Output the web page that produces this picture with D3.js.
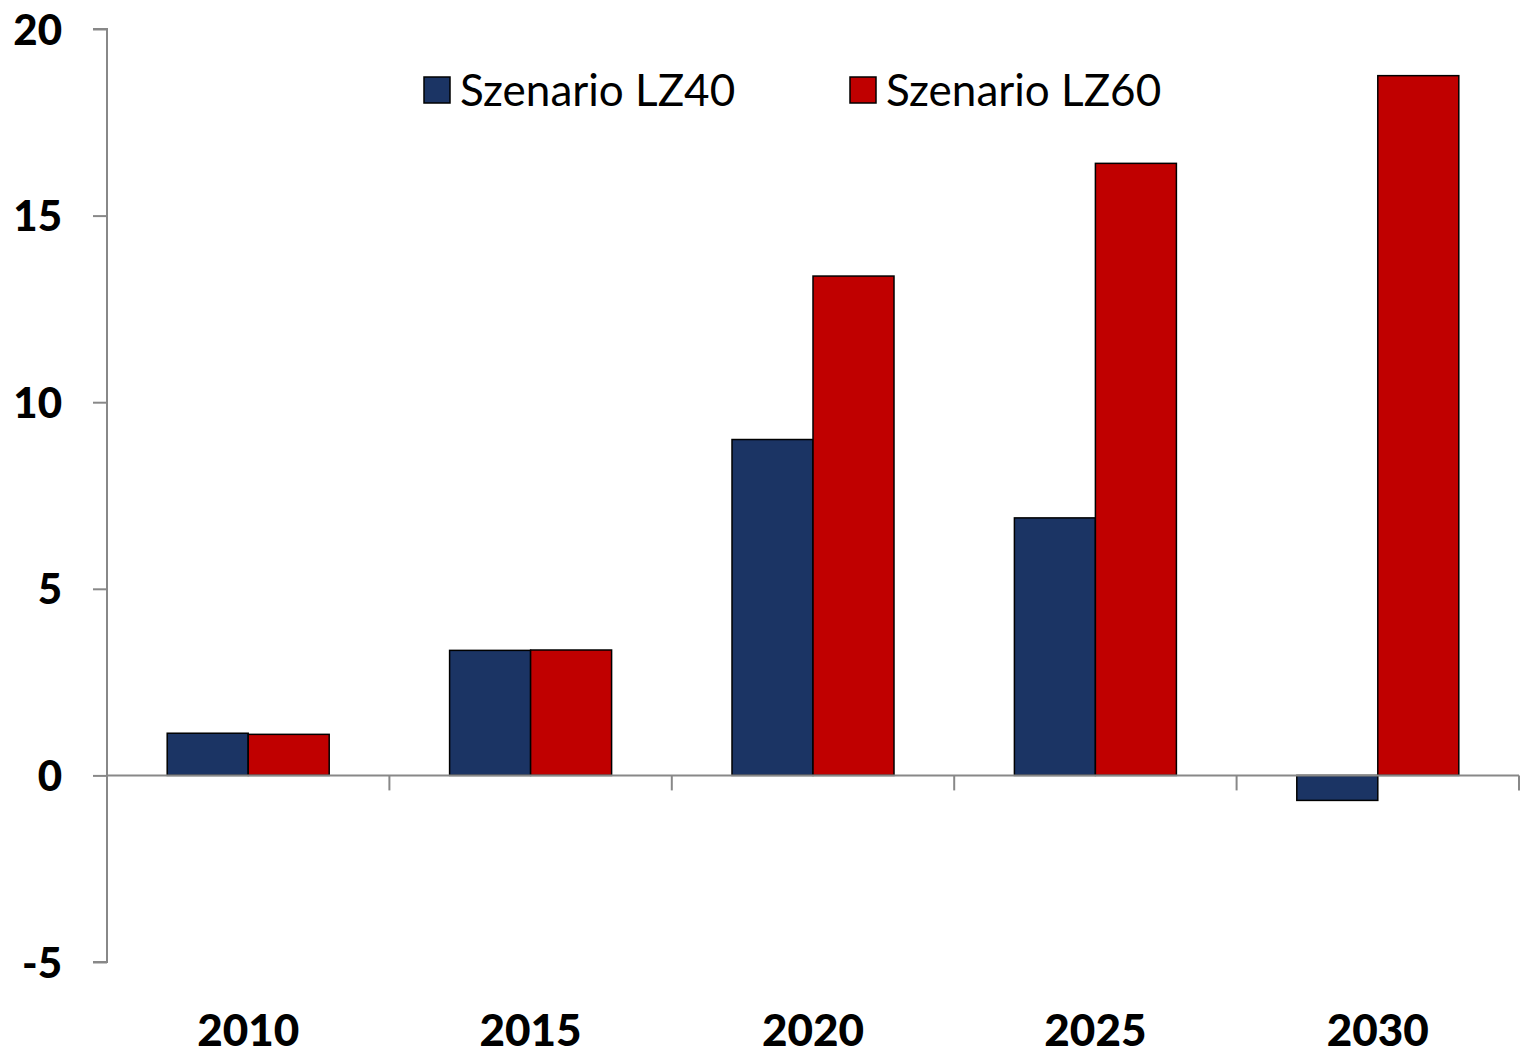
<!DOCTYPE html>
<html><head><meta charset="utf-8">
<script src="https://cdn.jsdelivr.net/npm/d3@7/dist/d3.min.js"></script>
<style>body{margin:0;background:#fff}</style>
</head><body>
<svg id="c" width="1525" height="1055"></svg>
<script>
const categories = ["2010","2015","2020","2025","2030"];
const seriesNames = ["Szenario LZ40","Szenario LZ60"];
const lz40 = [1.13, 3.35, 9.0, 6.9, -0.67];
const lz60 = [1.1, 3.36, 13.38, 16.4, 18.75];
const yTicks = [-5, 0, 5, 10, 15, 20];
const colors = ["#1B3464","#C00000"];

(function(){
const svg = d3.select("#c");
const mLeft = 107, mRight = 1519, mTop = 29, mBottom = 962;
const font = "Lato, 'Open Sans', sans-serif";

const x = d3.scaleBand().domain(categories).range([mLeft, mRight]);
const xs = d3.scaleBand().domain(seriesNames).range([0, 162]);
const y = d3.scaleLinear().domain([-5, 20]).range([mBottom, mTop]);

// y axis
const ya = svg.append("g").attr("transform", `translate(${mLeft},0)`)
  .call(d3.axisLeft(y).tickValues(yTicks).tickSize(14).tickPadding(30).tickFormat(d => String(d)));
ya.select(".domain").attr("stroke", "#888").attr("stroke-width", 2).attr("d", `M-14,${y(20)}H0V${y(-5)}H-14`);
ya.selectAll(".tick line").attr("stroke", "#888").attr("stroke-width", 2);
ya.selectAll(".tick text").attr("font-family", font).attr("font-weight", "900")
  .attr("font-size", 42).attr("fill", "#000").attr("dy", "0.36em").attr("x", -45);

// bars
const data = categories.map((c, i) => ({c, vals: [lz40[i], lz60[i]]}));
const g = svg.append("g");
data.forEach(d => {
  d.vals.forEach((v, j) => {
    g.append("rect")
      .attr("x", x(d.c) + x.bandwidth()/2 - 81 + xs(seriesNames[j]))
      .attr("width", xs.bandwidth())
      .attr("y", y(Math.max(0, v)))
      .attr("height", Math.abs(y(v) - y(0)))
      .attr("fill", colors[j]).attr("stroke", "#000").attr("stroke-width", 1.5);
  });
});

// x axis at zero
const xa = svg.append("g").attr("transform", `translate(0,${y(0)})`);
xa.append("path").attr("stroke", "#888").attr("stroke-width", 2).attr("fill", "none").attr("d", `M${mLeft},0H${mRight}`);
const bounds = categories.map(c => x(c) + x.bandwidth());
xa.selectAll("line.sep").data(bounds).enter().append("line")
  .attr("x1", d => d).attr("x2", d => d).attr("y1", 0).attr("y2", 15)
  .attr("stroke", "#888").attr("stroke-width", 2);

// x labels
svg.append("g").selectAll("text").data(categories).enter().append("text")
  .attr("x", d => x(d) + x.bandwidth()/2).attr("y", 1046)
  .attr("text-anchor", "middle").attr("font-family", font).attr("font-weight", "900")
  .attr("font-size", 44).attr("fill", "#000").text(d => d);

// legend
const legX = [424, 850];
seriesNames.forEach((n, i) => {
  svg.append("rect").attr("x", legX[i]).attr("y", 77).attr("width", 26).attr("height", 26)
    .attr("fill", colors[i]).attr("stroke", "#000").attr("stroke-width", 1.5);
  svg.append("text").attr("x", legX[i] + 36).attr("y", 106)
    .attr("font-family", font).attr("font-size", 44).attr("fill", "#000").text(n);
});
})();
</script>
</body></html>
